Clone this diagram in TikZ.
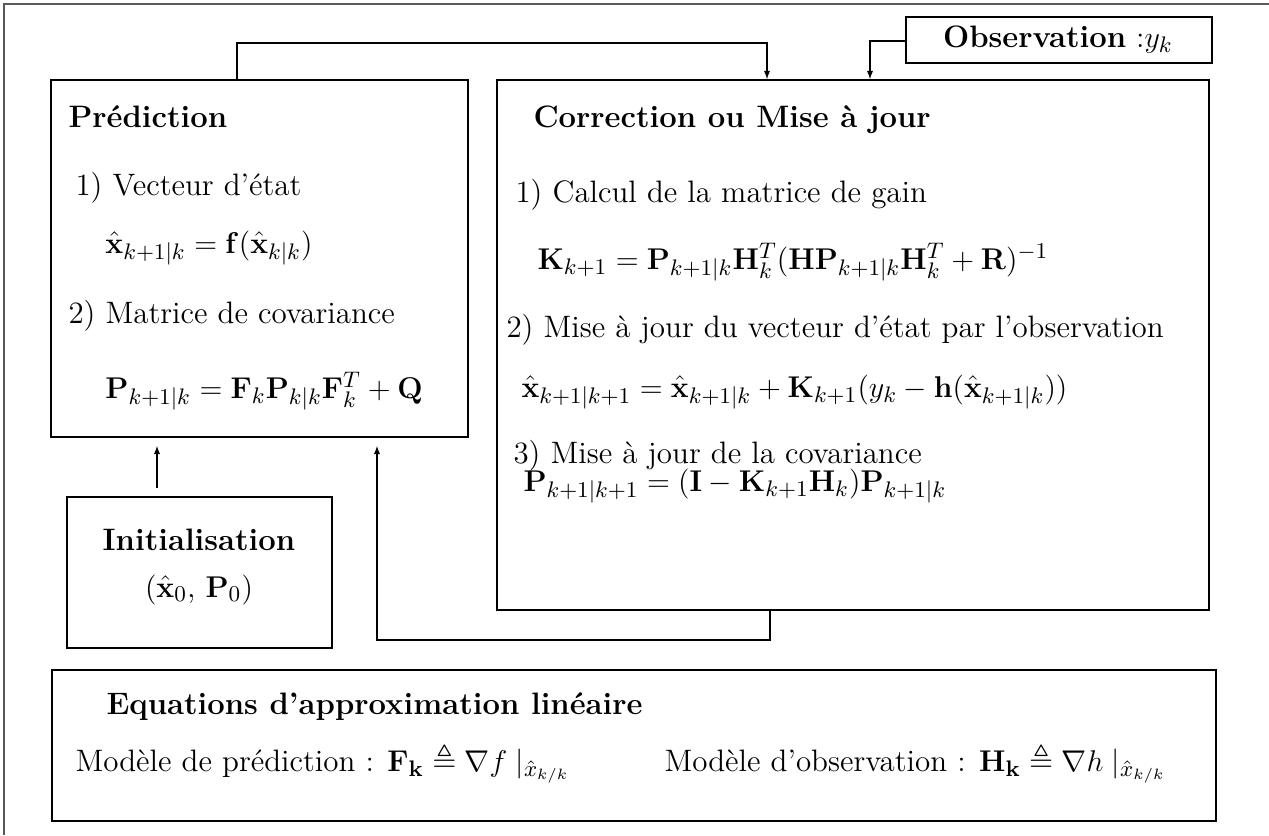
\documentclass[tikz,border=0pt]{standalone}
\usepackage{amsmath,amssymb}
\usetikzlibrary{fit,arrows.meta}
\begin{document}
\begin{tikzpicture}[x=0.4pt,y=-0.4pt,
  box/.style={draw, line width=0.5pt, inner sep=0pt},
  txt/.style={anchor=base west, inner sep=0pt, font=\fontsize{12.4}{14.9}\selectfont},
  ctxt/.style={anchor=base, inner sep=0pt, font=\fontsize{12.4}{14.9}\selectfont},
  arr/.style={line width=0.5pt, -{Latex[length=3.4pt,width=2.5pt]}},
  frame/.style={line width=0.8pt, black!65}]
\useasboundingbox (0,0) rectangle (1269,835);
\draw[frame] (4,835) -- (4,4) -- (1269,4);

% boxes
\node[box, fit={(51,80) (468,437)}] (pred) {};
\node[box, fit={(497,80) (1209,610)}] (corr) {};
\node[box, fit={(906,17) (1212,63)}] (obs) {};
\node[box, fit={(67,497) (332,648)}] (init) {};
\node[box, fit={(52,670) (1216,821)}] (lin) {};

% prediction texts
\node[txt] (pt) at (68,127) {\textbf{Prédiction}};
\node[txt] (p1) at (75,195) {1) Vecteur d’état};
\node[txt] (p2) at (105,253) {$\hat{\mathbf{x}}_{k+1|k} = \mathbf{f}(\hat{\mathbf{x}}_{k|k})$};
\node[txt] (p3) at (68,323) {2) Matrice de covariance};
\node[txt] (p4) at (105,398) {$\mathbf{P}_{k+1|k} = \mathbf{F}_k\mathbf{P}_{k|k}\mathbf{F}_k^T + \mathbf{Q}$};

% correction texts
\node[txt] (ct) at (533,127) {\textbf{Correction ou Mise à jour}};
\node[txt] (c1) at (515,202) {1) Calcul de la matrice de gain};
\node[txt] (c2) at (537,269) {$\mathbf{K}_{k+1} = \mathbf{P}_{k+1|k}\mathbf{H}_k^T(\mathbf{H}\mathbf{P}_{k+1|k}\mathbf{H}_k^T+\mathbf{R})^{-1}$};
\node[txt] (c3) at (506,337) {2) Mise à jour du vecteur d’état par l’observation};
\node[txt] (c4) at (521,397) {$\hat{\mathbf{x}}_{k+1|k+1} = \hat{\mathbf{x}}_{k+1|k} + \mathbf{K}_{k+1}(y_k - \mathbf{h}(\hat{\mathbf{x}}_{k+1|k}))$};
\node[txt] (c5) at (513,463) {3) Mise à jour de la covariance};
\node[txt] (c6) at (523,491) {$\mathbf{P}_{k+1|k+1} = (\mathbf{I} - \mathbf{K}_{k+1}\mathbf{H}_k)\mathbf{P}_{k+1|k}$};

% observation
\node[ctxt] (ot) at (1058,47) {\textbf{Observation} :$y_k$};

% initialisation
\node[ctxt] (it) at (199,550) {\textbf{Initialisation}};
\node[ctxt] (iv) at (199,597) {$(\hat{\mathbf{x}}_0$, $\mathbf{P}_0)$};

% linear approximation
\node[txt] (lt) at (106,714) {\textbf{Equations d’approximation linéaire}};
\node[txt] (ll) at (75,771) {Modèle de prédiction : $\mathbf{F_k} \triangleq \nabla f \mid_{\hat{x}_{k/k}}$};
\node[txt] (lr) at (664,771) {Modèle d’observation : $\mathbf{H_k} \triangleq \nabla h \mid_{\hat{x}_{k/k}}$};

% connectors
\coordinate (a1) at (237,43);
\coordinate (a2) at (767,43);
\draw[arr] (pred.north -| a1) -- (a1) -- (a2) -- (corr.north -| a2);
\coordinate (b1) at (870,41);
\draw[arr] (obs.west |- b1) -- (b1) -- (corr.north -| b1);
\coordinate (i1) at (157,0);
\draw[arr, shorten <=3.2pt, shorten >=3.2pt] (init.north -| i1) -- (pred.south -| i1);
\coordinate (f1) at (770,640);
\coordinate (f2) at (377,640);
\draw[arr, shorten >=3.2pt] (corr.south -| f1) -- (f1) -- (f2) -- (pred.south -| f2);
\end{tikzpicture}
\end{document}
